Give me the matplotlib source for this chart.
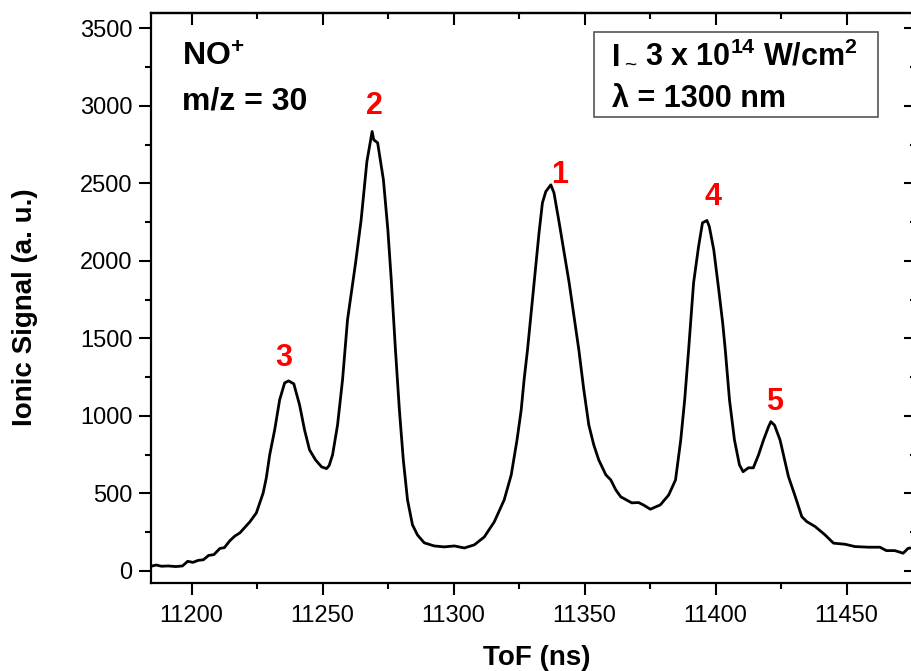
import matplotlib
matplotlib.use("Agg")
import matplotlib.pyplot as plt
from matplotlib.patches import Rectangle
from matplotlib.ticker import MultipleLocator

plt.rcParams['font.family'] = 'Liberation Sans'
plt.rcParams['mathtext.default'] = 'regular'

# time of flight (ns) and ionic signal (a. u.)
tof = [11184.5, 11186.5, 11188.5, 11191, 11194, 11196.5, 11198.5, 11200.5, 11202.5, 11204.5,
       11206.5, 11208.5, 11210.8, 11212.5, 11214.6, 11216.5, 11218.4, 11220.3, 11222.2, 11224.7,
       11227.3, 11228.5, 11229.8, 11231.7, 11233.6, 11235.5, 11237.0, 11239.0, 11241.2, 11243.1,
       11245.0, 11247.3, 11249.6, 11251.5, 11252.5, 11253.8, 11255.7, 11257.6, 11259.5, 11261.0,
       11262.6, 11264.7, 11266.9, 11268.9, 11269.5, 11271.0, 11273.2, 11274.9, 11276.2, 11277.8,
       11279.3, 11280.8, 11282.4, 11284.3, 11286.2, 11288.8, 11292.6, 11296.4, 11300.3, 11304.1,
       11307.9, 11311.7, 11315.5, 11319.3, 11322.0, 11324.2, 11325.8, 11326.9, 11328.2, 11330.1,
       11332.6, 11333.9, 11335.2, 11337.1, 11338.3, 11340.3, 11342.2, 11344.1, 11346.0, 11347.8,
       11349.7, 11351.6, 11353.5, 11355.4, 11358.1, 11360.0, 11361.9, 11363.8, 11368.0, 11370.6,
       11372.5, 11375.1, 11378.9, 11382.1, 11384.7, 11386.7, 11388.2, 11389.7, 11391.6, 11393.5,
       11395.0, 11396.7, 11397.6, 11399.3, 11401.2, 11402.7, 11403.7, 11405.3, 11407.2, 11409.1,
       11410.5, 11412.5, 11414.4, 11416.4, 11418.3, 11420.2, 11421.1, 11422.5, 11424.6, 11427.8,
       11430.4, 11432.9, 11434.8, 11438.0, 11441.8, 11445.0, 11449.4, 11453.2, 11458.3, 11462.7,
       11465.2, 11468.4, 11471.6, 11473.5, 11476.0]
signal = [30, 38, 30, 32, 28, 32, 62, 55, 68, 72,
          100, 105, 145, 150, 195, 225, 245, 280, 316, 374,
          503, 600, 749, 910, 1104, 1213, 1226, 1207, 1071, 910,
          781, 716, 671, 660, 680, 749, 942, 1233, 1620, 1800,
          1990, 2265, 2642, 2835, 2782, 2762, 2524, 2201, 1878, 1426,
          1039, 716, 458, 297, 232, 181, 161, 155, 161, 148,
          168, 219, 316, 458, 620, 845, 1039, 1233, 1426, 1749,
          2181, 2375, 2448, 2491, 2440, 2246, 2052, 1859, 1639, 1426,
          1168, 942, 813, 716, 620, 587, 523, 478, 439, 441,
          425, 398, 426, 490, 587, 845, 1104, 1426, 1859, 2093,
          2246, 2261, 2222, 2072, 1814, 1601, 1426, 1104, 845, 684,
          640, 665, 665, 749, 845, 930, 963, 940, 845, 609,
          480, 350, 318, 286, 232, 179, 172, 157, 153, 153,
          131, 131, 114, 146, 150]

# peak numbers and where their labels sit
peak_names = ["3", "2", "1", "4", "5"]
peak_label_x = [11235.1, 11269.8, 11340.6, 11398.9, 11422.5]
peak_label_y = [1323, 2950, 2504, 2362, 1039]

fig = plt.figure(figsize=(9.12, 6.71), dpi=100)
ax = fig.add_axes([0.1656, 0.1307, 0.8388, 0.850])

ax.plot(tof, signal, color='black', lw=2.0)

ax.set_xlim(11184.5, 11476.5)
ax.set_ylim(-80, 3600)
ax.xaxis.set_major_locator(MultipleLocator(50))
ax.xaxis.set_minor_locator(MultipleLocator(25))
ax.yaxis.set_major_locator(MultipleLocator(500))
ax.yaxis.set_minor_locator(MultipleLocator(250))

for s in ax.spines.values():
    s.set_linewidth(1.6)
ax.tick_params(which='both', direction='out', width=1.5, labelsize=17)
ax.tick_params(which='major', length=8.5)
ax.tick_params(which='minor', length=4.5)
ax.tick_params(axis='x', pad=7)
ax.tick_params(axis='y', pad=5)

# mirrored ticks on top and right, pointing inwards
axt = ax.secondary_xaxis('top')
axt.xaxis.set_major_locator(MultipleLocator(50))
axt.xaxis.set_minor_locator(MultipleLocator(25))
axt.tick_params(which='both', direction='in', width=1.5, labeltop=False)
axt.tick_params(which='major', length=8.5)
axt.tick_params(which='minor', length=4.5)
axt.spines['top'].set_linewidth(1.6)
axr = ax.secondary_yaxis('right')
axr.yaxis.set_major_locator(MultipleLocator(500))
axr.yaxis.set_minor_locator(MultipleLocator(250))
axr.tick_params(which='both', direction='in', width=1.5, labelright=False)
axr.tick_params(which='major', length=8.5)
axr.tick_params(which='minor', length=4.5)

ax.set_xlabel("ToF (ns)", fontsize=20, fontweight='bold')
ax.set_ylabel("Ionic Signal (a. u.)", fontsize=20, fontweight='bold')
ax.xaxis.set_label_coords(0.5046, -0.108)
ax.yaxis.set_label_coords(-0.148, 0.4845)

# species label
ax.text(0.0406, 0.907, "NO$^{+}$", transform=ax.transAxes, fontsize=23,
        fontweight='bold', va='baseline')
ax.text(0.0406, 0.830, "m/z = 30", transform=ax.transAxes, fontsize=23,
        fontweight='bold', va='baseline')

# laser parameters box
ax.add_patch(Rectangle((0.579, 0.818), 0.371, 0.149, transform=ax.transAxes,
                       fill=False, edgecolor='#555555', lw=1.2))
ax.text(0.603, 0.907, "I", transform=ax.transAxes,
        fontsize=22, fontweight='bold', va='baseline')
ax.text(0.619, 0.899, "~", transform=ax.transAxes,
        fontsize=15, va='baseline')
ax.text(0.646, 0.907, "3 x 10$^{14}$ W/cm$^{2}$", transform=ax.transAxes,
        fontsize=22, fontweight='bold', va='baseline')
ax.text(0.603, 0.835, "\u03bb = 1300 nm", transform=ax.transAxes,
        fontsize=22, fontweight='bold', va='baseline')

for name, x, y in zip(peak_names, peak_label_x, peak_label_y):
    ax.text(x, y, name, color='red', fontsize=22, fontweight='bold',
            ha='center', va='baseline')

fig.savefig("out.png", dpi=100)
